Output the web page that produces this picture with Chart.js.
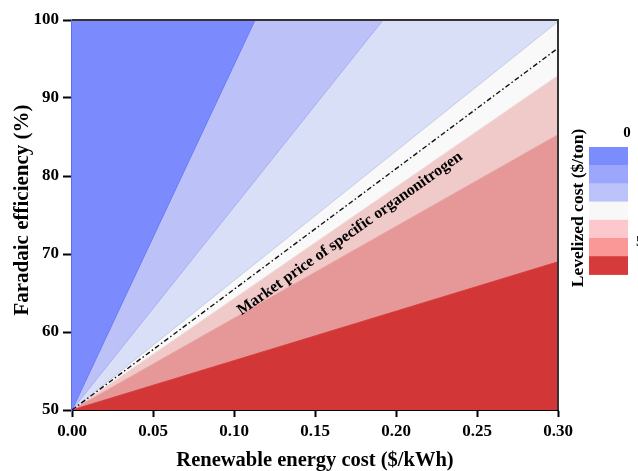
<!DOCTYPE html>
<html>
<head>
<meta charset="utf-8">
<script src="https://cdn.jsdelivr.net/npm/chart.js@4/dist/chart.umd.min.js"></script>
<style>
  html, body { margin: 0; padding: 0; background: #fff; }
  #wrap { width: 638px; height: 471px; }
</style>
</head>
<body>
<div id="wrap"><canvas id="costChart" width="638" height="471"></canvas></div>
<script>
// axis ticks
const xTicks = [0, 0.05, 0.10, 0.15, 0.20, 0.25, 0.30];
const yTicks = [50, 60, 70, 80, 90, 100];

// contour boundaries, all starting at (0, 50); listed from top-left to bottom-right
const origin = [0, 50];
const boundaryEndX = [0.113, 0.192, 0.30, 0.30, 0.30, 0.30];
const boundaryEndY = [100, 100, 99.8, 92.9, 85.3, 69.0];
// market price line of the organonitrogen
const marketEndX = 0.30;
const marketEndY = 96.4;

// level colours, top-left band to bottom-right band
const bandColors = ['#7b8bfe', '#bcc2f8', '#dadff8', '#f9f9f9', '#f0c9c9', '#e69797', '#d33636'];
const edgeColors = ['#6a7cf4', '#a6aef4', '#c6cae6', '#f2dede', '#e7a3a3', '#d44040'];
const barColors = ['#7b8cfd', '#9ba6fc', '#bcc3fb', '#f8f8f8', '#fdc8cc', '#fa9898', '#d63a3a'];

const serif = '"Liberation Serif", "Times New Roman", serif';

document.addEventListener('DOMContentLoaded', function() {
    const ctx = document.getElementById('costChart').getContext('2d');

    const datasets = [];
    // background band (lowest level)
    datasets.push({
        data: [{ x: 0, y: 50 }, { x: 0.30, y: 50 }],
        borderWidth: 0,
        pointRadius: 0,
        fill: 'end',
        backgroundColor: bandColors[6],
        order: 20
    });
    for (let i = boundaryEndX.length - 1; i >= 0; i--) {
        datasets.push({
            data: [{ x: origin[0], y: origin[1] }, { x: boundaryEndX[i], y: boundaryEndY[i] }],
            borderColor: edgeColors[i],
            borderWidth: 1,
            pointRadius: 0,
            fill: 'end',
            backgroundColor: bandColors[i],
            order: 10 + i
        });
    }
    datasets.push({
        data: [{ x: origin[0], y: origin[1] }, { x: marketEndX, y: marketEndY }],
        borderColor: '#111',
        borderWidth: 1.4,
        borderDash: [5, 2.5, 1.5, 2.5],
        pointRadius: 0,
        fill: false,
        order: 0
    });

    const extras = {
        id: 'extras',
        afterDatasetsDraw(chart) {
            const c = chart.ctx;
            const xs = chart.scales.x, ys = chart.scales.y;
            // market price label
            c.save();
            c.translate(xs.getPixelForValue(0.1716), ys.getPixelForValue(72.6));
            c.rotate(-35.3 * Math.PI / 180);
            c.font = 'bold 16px ' + serif;
            c.fillStyle = '#000';
            c.textAlign = 'center';
            c.textBaseline = 'middle';
            c.fillText('Market price of specific organonitrogen', 0, 0);
            c.restore();
        },
        afterDraw(chart) {
            const c = chart.ctx;
            const a = chart.chartArea;
            c.save();
            c.strokeStyle = '#333';
            c.lineWidth = 2;
            c.beginPath();
            c.moveTo(a.left, a.top);
            c.lineTo(a.right, a.top);
            c.lineTo(a.right, a.bottom);
            c.stroke();

            // axis titles
            c.fillStyle = '#000';
            c.textAlign = 'center';
            c.textBaseline = 'middle';
            c.font = 'bold 20.5px ' + serif;
            c.fillText('Renewable energy cost ($/kWh)', 315, 461);
            c.save();
            c.translate(23, 210);
            c.rotate(-Math.PI / 2);
            c.font = 'bold 21px ' + serif;
            c.fillText('Faradaic efficiency (%)', 0, 0);
            c.restore();

            // colour bar legend
            const bx = 589, by = 147, bw = 39, bh = 18.2;
            barColors.forEach((col, i) => {
                c.fillStyle = col;
                c.fillRect(bx, by + i * bh, bw, bh + 0.5);
            });
            c.fillStyle = '#000';
            c.font = 'bold 15px ' + serif;
            c.fillText('0', 627, 133);
            c.textAlign = 'left';
            c.fillText('500', 636, 242);
            c.translate(578, 208);
            c.rotate(-Math.PI / 2);
            c.textAlign = 'center';
            c.font = 'bold 17.5px ' + serif;
            c.fillText('Levelized cost ($/ton)', 0, 0);
            c.restore();
        }
    };

    new Chart(ctx, {
        type: 'line',
        data: { datasets: datasets },
        options: {
            responsive: false,
            animation: false,
            layout: { padding: { left: 0, right: 80, top: 20, bottom: 0 } },
            plugins: {
                legend: { display: false },
                tooltip: { enabled: false }
            },
            scales: {
                x: {
                    type: 'linear',
                    min: 0,
                    max: 0.30,
                    afterBuildTicks: axis => { axis.ticks = xTicks.map(v => ({ value: v })); },
                    afterFit: scale => { scale.height = 61; },
                    ticks: {
                        color: '#000',
                        padding: 4,
                        maxRotation: 0,
                        font: { family: serif, size: 17, weight: 'bold' },
                        callback: v => v.toFixed(2)
                    },
                    grid: { drawOnChartArea: false, tickLength: 7, tickWidth: 2, tickColor: '#000' },
                    border: { color: '#000', width: 2 }
                },
                y: {
                    min: 50,
                    max: 100,
                    afterBuildTicks: axis => { axis.ticks = yTicks.map(v => ({ value: v })); },
                    afterFit: scale => { scale.width = 72; },
                    ticks: {
                        color: '#000',
                        padding: 4,
                        font: { family: serif, size: 17, weight: 'bold' }
                    },
                    grid: { drawOnChartArea: false, tickLength: 9, tickWidth: 2, tickColor: '#000' },
                    border: { color: '#5d6ff0', width: 1.5 }
                }
            }
        },
        plugins: [extras]
    });
});
</script>
</body>
</html>
